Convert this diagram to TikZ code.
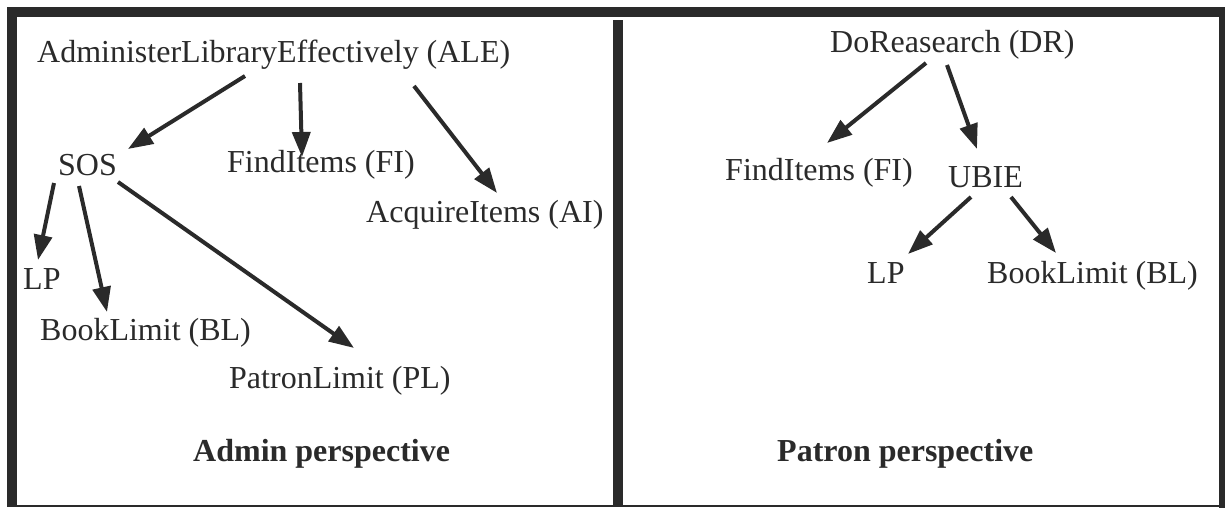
\documentclass[tikz,border=0pt]{standalone}
\usepackage{fontspec}
\setmainfont{Liberation Serif}
\usetikzlibrary{arrows.meta}
\definecolor{ink}{RGB}{42,42,42}
\begin{document}
\begin{tikzpicture}[x=1pt,y=-1pt,
  lbl/.style={anchor=base west,inner sep=0pt,text=ink,font=\fontsize{32}{38}\selectfont},
  ttl/.style={lbl,font=\fontsize{32}{38}\selectfont\bfseries},
  arr/.style={draw=ink,line width=4pt,-{Triangle[length=25pt,width=18pt]}},
  bar/.style={fill=ink,draw=none}]
\useasboundingbox (0,0) rectangle (1225,508);

% frame and divider
\fill[bar] (7,7) rectangle (1225,17);
\fill[bar] (7,7) rectangle (17,505);
\fill[bar] (1219,7) rectangle (1225,508);
\fill[bar] (7,504.5) rectangle (1225,507);
\fill[bar] (613,20) rectangle (623,505);

% admin view
\node[lbl] (ale) at (37,63) {AdministerLibraryEffectively (ALE)};
\node[lbl] (sos) at (58,175) {SOS};
\node[lbl] (fiA) at (227,172) {FindItems (FI)};
\node[lbl] (ai)  at (366,222) {AcquireItems (AI)};
\node[lbl] (lpA) at (23,289) {LP};
\node[lbl] (blA) at (40,340) {BookLimit (BL)};
\node[lbl] (pl)  at (229,388) {PatronLimit (PL)};
\node[ttl] (adminT) at (193,461) {Admin perspective};

\draw[arr] ([shift={(208,13)}]ale.base west) -- ([shift={(70,-26)}]sos.base west);
\draw[arr] ([shift={(263,20)}]ale.base west) -- ([shift={(75,-15)}]fiA.base west);
\draw[arr] ([shift={(377,23)}]ale.base west) -- ([shift={(131,-29)}]ai.base west);
\draw[arr] ([shift={(-4,8)}]sos.base west) -- ([shift={(15,-29)}]lpA.base west);
\draw[arr] ([shift={(21,11)}]sos.base west) -- ([shift={(67,-28)}]blA.base west);
\draw[arr] ([shift={(60,7)}]sos.base west) -- ([shift={(125,-40)}]pl.base west);

% patron view
\node[lbl] (dr)   at (830,53) {DoReasearch (DR)};
\node[lbl] (fiB)  at (725,180) {FindItems (FI)};
\node[lbl] (ubie) at (948,187) {UBIE};
\node[lbl] (lpB)  at (867,283) {LP};
\node[lbl] (blB)  at (987,283) {BookLimit (BL)};
\node[ttl] (patronT) at (777,461) {Patron perspective};

\draw[arr] ([shift={(96,10)}]dr.base west) -- ([shift={(102,-37)}]fiB.base west);
\draw[arr] ([shift={(117,12)}]dr.base west) -- ([shift={(29,-38)}]ubie.base west);
\draw[arr] ([shift={(23,10)}]ubie.base west) -- ([shift={(41,-29)}]lpB.base west);
\draw[arr] ([shift={(63,10)}]ubie.base west) -- ([shift={(69,-30)}]blB.base west);
\end{tikzpicture}
\end{document}
